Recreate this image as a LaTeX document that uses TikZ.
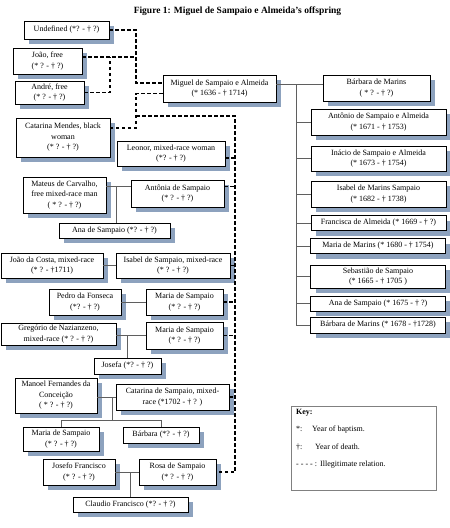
\documentclass[tikz,border=0pt]{standalone}
\usepackage{fontspec}
\setmainfont{Liberation Serif}
\usetikzlibrary{positioning,shadows}
\definecolor{shadowblue}{RGB}{141,162,190}
\definecolor{linegray}{RGB}{95,95,95}
\tikzset{
    mybox/.style={rectangle, draw=black, fill=white, line width=0.6pt, align=center, inner sep=2pt,
      font=\fontsize{8}{10.5}\selectfont,
      drop shadow={shadow xshift=5pt, shadow yshift=-5pt, fill=shadowblue, opacity=1}},
    keybox/.style={rectangle, draw=gray, line width=0.6pt},
    keytext/.style={align=left, inner sep=0pt, font=\fontsize{8}{10.5}\selectfont},
    rel/.style={draw=linegray, line width=0.7pt},
    illeg/.style={draw=black, line width=1.1pt, dash pattern=on 3.5pt off 2.5pt}
}

\begin{document}
\begin{tikzpicture}[x=1pt, y=-1pt]
    \useasboundingbox (0,0) rectangle (450,528);
    \node[font=\fontsize{9.5}{11}\selectfont\bfseries] (title) at (237.5,11)
      {Figure 1: Miguel de Sampaio e Almeida’s offspring};

    % father, wife and legitimate children
    \node[mybox, minimum width=113, minimum height=27] (miguel) at (219.5,88.5)
      {Miguel de Sampaio e Almeida\\(* 1636 - † 1714)};
    \node[mybox, minimum width=107, minimum height=26] (barbara) at (376.5,88)
      {Bárbara de Marins\\( * ? - † ?)};
    \node[mybox, minimum width=135, minimum height=26] (antonio) at (378.5,122)
      {Antônio de Sampaio e Almeida\\(* 1671 - † 1753)};
    \node[mybox, minimum width=135, minimum height=25] (inacio) at (378.5,158.5)
      {Inácio de Sampaio e Almeida\\(* 1673 - † 1754)};
    \node[mybox, minimum width=135, minimum height=26] (isabelm) at (378.5,194)
      {Isabel de Marins Sampaio\\(* 1682 - † 1738)};
    \node[mybox, minimum width=135, minimum height=15] (francisca) at (378.5,223)
      {Francisca de Almeida (* 1669 - † ?)};
    \node[mybox, minimum width=135, minimum height=15] (mariam) at (378,246)
      {Maria de Marins (* 1680 - † 1754)};
    \node[mybox, minimum width=135, minimum height=23] (sebastiao) at (378,276.5)
      {Sebastião de Sampaio\\(* 1665 - † 1705 )};
    \node[mybox, minimum width=135, minimum height=15] (anam) at (378,303.5)
      {Ana de Sampaio (* 1675 - † ?)};
    \node[mybox, minimum width=135, minimum height=16] (barbaram) at (378,325)
      {Bárbara de Marins (* 1678 - †1728)};

    % other partners
    \node[mybox, minimum width=85, minimum height=18] (undef) at (66.5,30)
      {Undefined (*? - † ?)};
    \node[mybox, minimum width=69, minimum height=26] (joao) at (47.5,61)
      {João, free\\(* ? - † ?)};
    \node[mybox, minimum width=69, minimum height=23] (andre) at (49.5,92.5)
      {André, free\\(* ? - † ?)};
    \node[mybox, minimum width=94, minimum height=39] (catm) at (63,137.5)
      {Catarina Mendes, black\\woman\\(* ? - † ?)};
    \node[mybox, minimum width=108, minimum height=25] (leonor) at (171,153.5)
      {Leonor, mixed-race woman\\(*? - † ?)};

    % illegitimate daughters and their families
    \node[mybox, minimum width=93, minimum height=27] (antonia) at (177.5,193.5)
      {Antônia de Sampaio\\(* ? - † ?)};
    \node[mybox, minimum width=83, minimum height=36] (mateus) at (64.5,195)
      {Mateus de Carvalho,\\free mixed-race man\\( * ? - † ?)};
    \node[mybox, minimum width=111, minimum height=15] (anasa) at (114.5,230.5)
      {Ana de Sampaio (*? - † ?)};
    \node[mybox, minimum width=102, minimum height=25] (joaoc) at (52,265.5)
      {João da Costa, mixed-race\\(* ? - †1711)};
    \node[mybox, minimum width=114, minimum height=25] (isabels) at (173,265.5)
      {Isabel de Sampaio, mixed-race\\(* ? - † ?)};
    \node[mybox, minimum width=72, minimum height=26] (pedro) at (85,302)
      {Pedro da Fonseca\\(*? - † ?)};
    \node[mybox, minimum width=77, minimum height=26] (maria1) at (184.5,302)
      {Maria de Sampaio\\(* ? - † ?)};
    \node[mybox, minimum width=115, minimum height=22] (gregorio) at (58.5,334)
      {Gregório de Nazianzeno,\\mixed-race (* ? - † ?)};
    \node[mybox, minimum width=77, minimum height=27] (maria2) at (184.5,335.5)
      {Maria de Sampaio\\(* ? - † ?)};
    \node[mybox, minimum width=67, minimum height=16] (josefa) at (127.5,366)
      {Josefa (*? - † ?)};
    \node[mybox, minimum width=82, minimum height=35] (manoel) at (56,395.5)
      {Manoel Fernandes da\\Conceição\\( * ? - † ?)};
    \node[mybox, minimum width=113, minimum height=26] (catarinas) at (172.5,397)
      {Catarina de Sampaio, mixed-\\race (*1702 - † ? )};
    \node[mybox, minimum width=76, minimum height=24] (maria3) at (61,439)
      {Maria de Sampaio\\(* ? - † ?)};
    \node[mybox, minimum width=76, minimum height=16] (barbarab) at (161,435)
      {Bárbara (*? - † ?)};
    \node[mybox, minimum width=72, minimum height=26] (josefo) at (79,472)
      {Josefo Francisco\\(* ? - † ?)};
    \node[mybox, minimum width=77, minimum height=26] (rosa) at (177.5,472)
      {Rosa de Sampaio\\(* ? - † ?)};
    \node[mybox, minimum width=115, minimum height=15] (claudio) at (130.5,504.5)
      {Claudio Francisco (*? - † ?)};

    % key
    \node[keybox, anchor=north west, minimum width=145, minimum height=84] (key) at (291,406) {};
    \node[keytext, below right=3pt and 5pt of key.north west] (keyt)
      {\textbf{Key:}\\[7pt]
       \makebox[16pt][l]{*:}Year of baptism.\\[7pt]
       \makebox[19pt][l]{†:}Year of death.\\[7pt]
       \makebox[24pt][l]{- - - - :}Illegitimate relation.};

    % junctions
    \coordinate (ja) at (136,57);
    \coordinate (jb) at (110,57);
    \coordinate (jc) at (136,116);
    \coordinate (jd) at (235,116);
    \coordinate (cb) at (296,84);
    \coordinate (jm) at (116,187);
    \coordinate (jk) at (112,420);

    % legitimate line
    \draw[rel] ([yshift=4.5pt]miguel.east) -- ([yshift=4.5pt]miguel.east -| barbara.west);
    \draw[rel] (cb) |- (barbaram.west);
    \draw[rel] (antonio.west -| cb) -- (antonio.west);
    \draw[rel] (inacio.west -| cb) -- (inacio.west);
    \draw[rel] (isabelm.west -| cb) -- (isabelm.west);
    \draw[rel] (francisca.west -| cb) -- (francisca.west);
    \draw[rel] (mariam.west -| cb) -- (mariam.west);
    \draw[rel] (sebastiao.west -| cb) -- (sebastiao.west);
    \draw[rel] (anam.west -| cb) -- (anam.west);

    % illegitimate relations
    \draw[illeg] (undef.east) -| (ja) |- ([yshift=5.5pt]miguel.west);
    \draw[illeg] ([yshift=4pt]joao.east) -- (ja);
    \draw[illeg] (andre.east) -| (jb);
    \draw[illeg] ([yshift=-5pt]miguel.west) -| (jc) |- ([yshift=9.5pt]catm.east);
    \draw[illeg] (jc) -- (jd) |- (rosa.east);
    \draw[illeg] ([yshift=-4.5pt]leonor.east) -- ([yshift=-4.5pt]leonor.east -| jd);
    \draw[illeg] ([yshift=7pt]antonia.east) -- ([yshift=7pt]antonia.east -| jd);
    \draw[illeg] (isabels.east) -- (isabels.east -| jd);
    \draw[illeg] (maria1.east) -- (maria1.east -| jd);
    \draw[illeg] (maria2.east) -- (maria2.east -| jd);
    \draw[illeg] (catarinas.east) -- (catarinas.east -| jd);

    % daughters' families
    \draw[rel] ([yshift=7pt]antonia.west) -- ([yshift=7pt]antonia.west -| mateus.east);
    \draw[rel] (jm) -- (jm |- anasa.north);
    \draw[rel] (joaoc.east) -- (isabels.west);
    \draw[rel] (pedro.east) -- (maria1.west);
    \draw[rel] (maria2.west) -- (maria2.west -| gregorio.east);
    \draw[rel] (josefa.north) -- (josefa.north |- maria2.west);
    \draw[rel] (catarinas.west) -- (catarinas.west -| manoel.east);
    \draw[rel] (jk |- catarinas.west) -- (jk);
    \draw[rel] (maria3.north) -- (maria3.north |- jk) -- (barbarab.north |- jk) -- (barbarab.north);
    \draw[rel] (josefo.east) -- (rosa.west);
    \draw[rel] (claudio.north) -- (claudio.north |- rosa.west);
\end{tikzpicture}
\end{document}
